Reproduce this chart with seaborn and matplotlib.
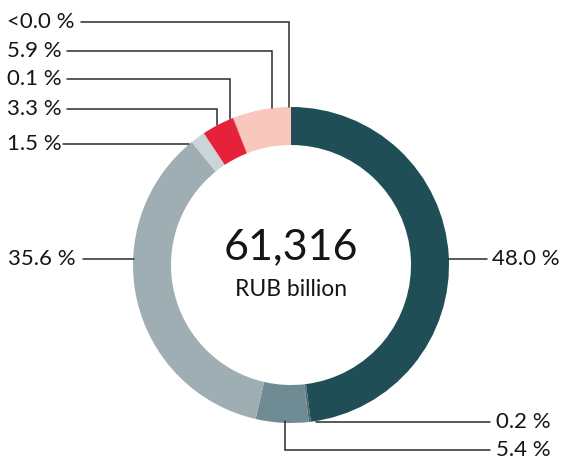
import numpy as np
import matplotlib
matplotlib.use("Agg")
import matplotlib.pyplot as plt
import seaborn as sns

# ---- data ----
shares = [48.0, 0.2, 5.4, 35.6, 1.5, 3.3, 0.1, 5.9, 0.0]
labels = ["48.0 %", "0.2 %", "5.4 %", "35.6 %", "1.5 %", "3.3 %", "0.1 %", "5.9 %", "<0.0 %"]
colors = ["#1f4e56", "#46666f", "#6f8b93", "#9eaeb3", "#cbd5d9",
          "#e5223a", "#f07167", "#f8c8bf", "#f8c8bf"]
total_text = "61,316"
unit_text = "RUB billion"

sns.set_theme(style="white")
plt.rcParams['font.family'] = ['Lato', 'DejaVu Sans']

W, H = 563, 461
fig = plt.figure(figsize=(W / 100, H / 100), dpi=100)
ax = fig.add_axes([0, 0, 1, 1])

cx, cy_img, R, ring = 291, 265, 158, 38
cy = H - cy_img

ax.pie(shares, colors=colors, startangle=90, counterclock=False,
       radius=R, center=(cx, cy), frame=True,
       wedgeprops=dict(width=ring, linewidth=0))
ax.set_xlim(0, W)
ax.set_ylim(0, H)
ax.set_aspect('equal')
ax.axis('off')

txt_col = "#151515"
line_col = "#2b2b2b"
lw = 1.1
fs = 16

def Y(y):
    return H - y

def ring_y_top(x):
    return cy_img - np.sqrt(R**2 - (x - cx)**2)

def ring_y_bot(x):
    return cy_img + np.sqrt(R**2 - (x - cx)**2)

# top-left labels with elbow leaders: (label index, text y, line start x, elbow x)
top_left = [(8, 22, 81, 289), (7, 51, 67, 272), (6, 79, 67, 230), (5, 109, 67, 217)]
for idx, ty, x0, xe in top_left:
    ax.text(7, Y(ty), labels[idx], ha='left', va='center', fontsize=fs, color=txt_col)
    ax.plot([x0, xe, xe], [Y(ty), Y(ty), Y(ring_y_top(xe))], color=line_col, lw=lw,
            solid_joinstyle='miter')

# 1.5 %
ty = 144
xr = cx - np.sqrt(R**2 - (ty - cy_img)**2)
ax.text(7, Y(ty), labels[4], ha='left', va='center', fontsize=fs, color=txt_col)
ax.plot([63, xr], [Y(ty), Y(ty)], color=line_col, lw=lw)

# 35.6 %
ty = 259
ax.text(8, Y(ty), labels[3], ha='left', va='center', fontsize=fs, color=txt_col)
ax.plot([83, cx - R + 1], [Y(ty), Y(ty)], color=line_col, lw=lw)

# 48.0 %
ax.text(492, Y(ty), labels[0], ha='left', va='center', fontsize=fs, color=txt_col)
ax.plot([cx + R - 1, 487], [Y(ty), Y(ty)], color=line_col, lw=lw)

# 0.2 %
ty = 422
ax.text(496, Y(ty), labels[1], ha='left', va='center', fontsize=fs, color=txt_col)
ax.plot([316, 490], [Y(ty), Y(ty)], color=line_col, lw=lw)

# 5.4 %
ty = 450
xe = 285
ax.text(496, Y(ty), labels[2], ha='left', va='center', fontsize=fs, color=txt_col)
ax.plot([xe, xe, 490], [Y(ring_y_bot(xe) - 2), Y(ty), Y(ty)], color=line_col, lw=lw,
        solid_joinstyle='miter')

# center text
ax.text(cx, Y(247), total_text, ha='center', va='center', fontsize=31, color=txt_col)
ax.text(cx, Y(289), unit_text, ha='center', va='center', fontsize=16.5, color=txt_col)

fig.savefig("out.png", dpi=100)
